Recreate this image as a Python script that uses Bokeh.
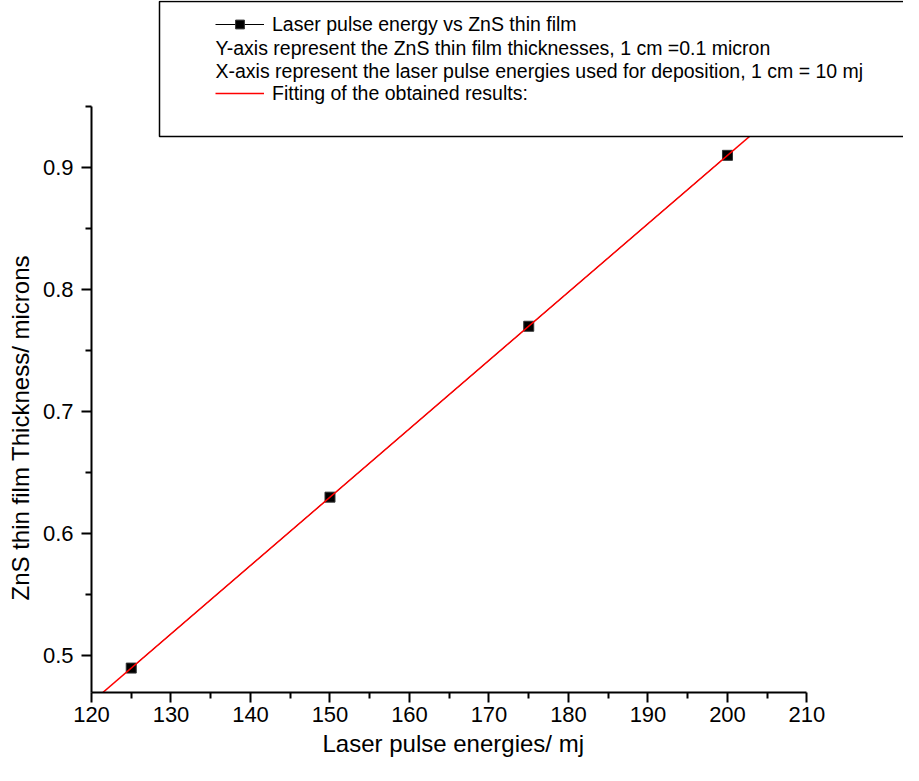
import numpy as np
from bokeh.plotting import figure
from bokeh.models import (Range1d, FixedTicker, BoxAnnotation, Legend, LegendItem,
                          ColumnDataSource, Label, Title)
from bokeh.embed import file_html
from bokeh.resources import INLINE

# ---------------- data ----------------
energy_mj = [125, 150, 175, 200]
thickness_um = [0.49, 0.63, 0.77, 0.91]

x_lim = (120, 210)
y_lim = (0.47, 0.95)
x_ticks = [120, 130, 140, 150, 160, 170, 180, 190, 200, 210]
x_minor = [125, 135, 145, 155, 165, 175, 185, 195, 205]
y_ticks = [0.5, 0.6, 0.7, 0.8, 0.9]
y_minor = [0.55, 0.65, 0.75, 0.85, 0.95]

x_title = "Laser pulse energies/ mj"
y_title = "ZnS thin film Thickness/ microns"
series_label = "Laser pulse energy vs ZnS thin film"
note_y = "Y-axis represent the ZnS thin film thicknesses, 1 cm =0.1 micron"
note_x = "X-axis represent the laser pulse energies used for deposition, 1 cm = 10 mj"
fit_label = "Fitting of the obtained results:"

# linear fit of the measured points
slope, intercept = np.polyfit(energy_mj, thickness_um, 1)
fit_x = [x_lim[0], x_lim[1]]
fit_y = [slope * v + intercept for v in fit_x]

# ---------------- layout (pixels) ----------------
W, H = 903, 765
LEFT, BOTTOM = 87, 73              # frame offset inside the figure
FRAME_W, FRAME_H = W - LEFT, H - BOTTOM
AXIS_W, AXIS_H = 719, 586          # pixel length of the drawn axes
x_end = x_lim[0] + FRAME_W * (x_lim[1] - x_lim[0]) / AXIS_W
y_end = y_lim[0] + FRAME_H * (y_lim[1] - y_lim[0]) / AXIS_H

FONT = "Liberation Sans"

p = figure(width=W, height=H,
           x_range=Range1d(x_lim[0], x_end), y_range=Range1d(y_lim[0], y_end),
           output_backend="svg", toolbar_location=None,
           min_border_left=LEFT, min_border_right=0,
           min_border_top=0, min_border_bottom=BOTTOM)
p.outline_line_color = None
p.grid.visible = False
p.background_fill_color = "white"
p.border_fill_color = "white"

p.xaxis[0].ticker = FixedTicker(ticks=x_ticks, minor_ticks=x_minor)
p.yaxis[0].ticker = FixedTicker(ticks=y_ticks, minor_ticks=y_minor)
p.xaxis[0].bounds = x_lim
p.yaxis[0].bounds = y_lim

for ax in (p.xaxis[0], p.yaxis[0]):
    ax.axis_line_width = 2
    ax.axis_line_color = "black"
    ax.major_tick_line_width = 2
    ax.minor_tick_line_width = 2
    ax.major_tick_line_color = "black"
    ax.minor_tick_line_color = "black"
    ax.major_tick_in = 0
    ax.major_tick_out = 10
    ax.minor_tick_in = 0
    ax.minor_tick_out = 6
    ax.major_label_text_font = FONT
    ax.major_label_text_font_size = "22px"
    ax.major_label_text_color = "black"
p.xaxis[0].major_label_standoff = 4
p.yaxis[0].major_label_standoff = 8

# axis titles placed as titles so they sit centred on the drawn axes
p.add_layout(Title(text=x_title, align="left", offset=231, standoff=6,
                   text_font=FONT, text_font_size="24px", text_font_style="normal",
                   text_color="black"), "below")
p.add_layout(Title(text=y_title, align="left", offset=92, standoff=10,
                   vertical_align="middle",
                   text_font=FONT, text_font_size="24px", text_font_style="normal",
                   text_color="black"), "left")

src = ColumnDataSource(dict(x=energy_mj, y=thickness_um))
series_line = p.line('x', 'y', source=src, line_color="black", line_width=1)
series_pts = p.scatter('x', 'y', source=src, marker="square", size=10,
                       fill_color="black", line_color="#333333", line_width=1)
fit_line = p.line(fit_x, fit_y, line_color="#ff0000", line_width=1.5)

# legend frame (screen units, relative to plot frame bottom-left)
box = BoxAnnotation(left=68, right=FRAME_W + 20, top=691, bottom=556,
                    left_units="screen", right_units="screen",
                    top_units="screen", bottom_units="screen",
                    fill_color="white", fill_alpha=1.0,
                    line_color="black", line_width=1.5, line_alpha=1.0)
p.add_layout(box)

leg = Legend(items=[LegendItem(label=series_label, renderers=[series_line, series_pts]),
                    LegendItem(label=fit_label, renderers=[fit_line])],
             location=(124, 587), orientation="vertical",
             padding=0, margin=0, spacing=45,
             glyph_width=49, glyph_height=22, label_height=24, label_standoff=8,
             border_line_color=None, background_fill_alpha=0.0,
             label_text_font=FONT, label_text_font_size="19.5px",
             label_text_color="black")
p.add_layout(leg)

for txt, yy in ((note_y, 645), (note_x, 622)):
    p.add_layout(Label(x=124, y=yy, x_units="screen", y_units="screen", text=txt,
                       text_baseline="middle", text_align="left",
                       text_font=FONT, text_font_size="19.5px", text_color="black"))

open("out.html", "w").write(file_html(p, INLINE))
